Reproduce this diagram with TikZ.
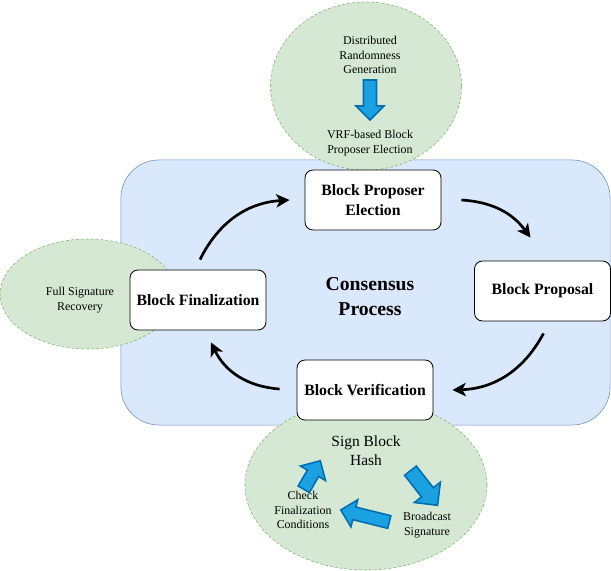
\documentclass[tikz,border=0pt]{standalone}
\usepackage{fontspec}
\setmainfont{Liberation Serif}
\usetikzlibrary{positioning}
\usetikzlibrary{shapes.geometric,arrows.meta}
\definecolor{panelblue}{HTML}{DAE8FC}
\definecolor{panelline}{HTML}{6C8EBF}
\definecolor{leafgreen}{HTML}{D5E8D4}
\definecolor{leafline}{HTML}{82B366}
\definecolor{pulsefill}{HTML}{1BA1E2}
\definecolor{pulseline}{HTML}{006EAF}

\begin{document}
\begin{tikzpicture}[x=0.025cm, y=-0.025cm, semithick,
    panel/.style ={rectangle, rounded corners=0.95cm, draw=panelline, fill=panelblue, thin,
    minimum width=12.225cm, minimum height=6.625cm},
    bubble/.style ={ellipse, draw=leafline, fill=leafgreen, thin, dash pattern=on 2pt off 1.5pt, inner sep=0pt},
    stage/.style ={rectangle, rounded corners=0.2cm, draw=black, fill=white, minimum width=3.4cm,
    minimum height=1.5cm, align=center, font=\fontsize{11.2}{14.2}\selectfont\bfseries},
    note/.style ={align=center, font=\fontsize{8.5}{10.2}\selectfont},
    cycle/.style ={-{Stealth[length=9.5pt,width=9.5pt,inset=2.5pt]}, line width=1.9pt},
    pulse/.style ={fill=pulsefill, draw=pulseline, line width=1.1pt, line join=miter},
    pics/block arrow/.style n args={3}{code={
      \draw[pulse] (-#1/2,-#3/2) -- (#1/2-#2/2,-#3/2) -- (#1/2-#2/2,-#2/2) -- (#1/2,0)
        -- (#1/2-#2/2,#2/2) -- (#1/2-#2/2,#3/2) -- (-#1/2,#3/2) -- cycle;
    }}]
    \useasboundingbox (0,0) rectangle (611,571);
    \node[panel] (Panel) at (365.5,292.5) {};
    \node[bubble, minimum width=4.775cm, minimum height=4.2cm] (Rand) at (366,86) {};
    \node[bubble, minimum width=4.4cm, minimum height=2.75cm] (Recov) at (88,294) {};
    \node[bubble, minimum width=6.05cm, minimum height=4.25cm] (Sign) at (366,485) {};
    % stages of the cycle
    \node[stage] (Elect) at (373,200) {Block Proposer\\Election};
    \node[stage] (Prop) at (542.5,291) {Block Proposal};
    \node[stage] (Verif) at (365,390) {Block Verification};
    \node[stage] (Final) at (198,300) {Block Finalization};
    \node[align=center, font=\fontsize{14}{17.8}\selectfont\bfseries] (Title) at (370,297) {Consensus\\Process};
    \draw[cycle] ([shift={(2,-10)}]Final.north) to[bend left=30] ([shift={(-15,0)}]Elect.west);
    \draw[cycle] ([shift={(20,0)}]Elect.east) to[bend left=25] ([shift={(-12,-23)}]Prop.north);
    \draw[cycle] ([shift={(1,12)}]Prop.south) to[bend left=30] ([shift={(19,0)}]Verif.east);
    \draw[cycle] ([shift={(-17,-1)}]Verif.west) to[bend left=30] ([shift={(13,12)}]Final.south);
    % top bubble
    \node[note] (Gen) at (370,55) {Distributed\\Randomness\\Generation};
    \pic[rotate=-90] (Down) at (370,100) {block arrow={40}{28}{13}};
    \node[note, font=\fontsize{8.5}{10.8}\selectfont] (VRF) at (370,143) {VRF-based Block\\Proposer Election};
    % left bubble
    \node[note] (Full) at (80,300) {Full Signature\\Recovery};
    % bottom bubble
    \node[align=center, font=\fontsize{11}{13.5}\selectfont] (Hash) at (366,451) {Sign Block\\Hash};
    \node[note] (Check) at (303,510) {Check\\Finalization\\Conditions};
    \node[note] (Cast) at (427,525) {Broadcast\\Signature};
    \pic[rotate=60] (PulseA) at (312,475) {block arrow={33}{29}{13}};
    \pic[rotate=-52] (PulseB) at (424,488) {block arrow={44}{33}{15}};
    \pic[rotate=166] (PulseC) at (365,516) {block arrow={50}{28}{13}};
\end{tikzpicture}
\end{document}
